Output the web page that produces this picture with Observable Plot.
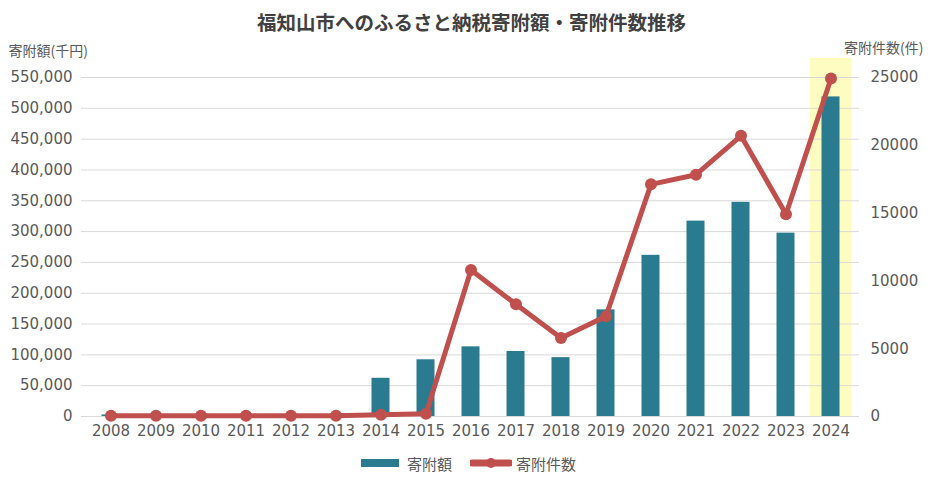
<!DOCTYPE html>
<html>
<head>
<meta charset="utf-8">
<script src="https://cdn.jsdelivr.net/npm/d3@7"></script>
<script src="https://cdn.jsdelivr.net/npm/@observablehq/plot@0.6"></script>
<style>
  html, body { margin: 0; padding: 0; background: #fff; overflow: hidden; }
  #wrap { width: 943px; height: 479px; position: relative; }
  #title { position: absolute; left: 0; top: 0; width: 943px; height: 44px; line-height: 44px; text-align: center; font-family: "Noto Sans CJK JP", sans-serif; font-weight: bold; font-size: 19.5px; color: #404040; z-index: 2; }
  #chart { position: absolute; left: 0; top: 0; }
  #chart svg { display: block; max-width: none !important; }
  #legend { position: absolute; left: 0; top: 450px; width: 943px; display: flex; justify-content: center; align-items: center; gap: 4px; font-family: "Noto Sans CJK JP", sans-serif; font-size: 15px; color: #595959; height: 26px; margin-left: -3px; }
  #legend svg { display: block; }
</style>
</head>
<body>
<div id="wrap">
  <div id="chart"></div>
  <div id="title"></div>
  <div id="legend"></div>
</div>
<script>
const titleText = "福知山市へのふるさと納税寄附額・寄附件数推移";
const leftAxisTitle = "寄附額(千円)";
const rightAxisTitle = "寄附件数(件)";
const seriesNames = ["寄附額", "寄附件数"];
const years = ["2008","2009","2010","2011","2012","2013","2014","2015","2016","2017","2018","2019","2020","2021","2022","2023","2024"];
const amounts = [2500, 3000, 800, 800, 800, 800, 62000, 92000, 113000, 105500, 95500, 173000, 261500, 317000, 347500, 297500, 518500];
const counts = [60, 60, 50, 50, 50, 50, 120, 200, 10800, 8270, 5790, 7400, 17120, 17830, 20700, 14920, 24930];
const leftTicks = [0, 50000, 100000, 150000, 200000, 250000, 300000, 350000, 400000, 450000, 500000, 550000];
const rightTicks = [0, 5000, 10000, 15000, 20000, 25000];
const highlightYear = "2024";

const yMax = leftTicks[leftTicks.length - 1];
const ratio = yMax / rightTicks[rightTicks.length - 1];
const data = years.map((y, i) => ({year: y, amount: amounts[i], count: counts[i]}));

const barColor = "#2a7b8f";
const lineColor = "#c0504d";
const textColor = "#595959";

document.getElementById("title").textContent = titleText;

const chart = Plot.plot({
  width: 943,
  height: 450,
  marginLeft: 81,
  marginRight: 84,
  marginTop: 77,
  marginBottom: 34,
  style: {fontFamily: "DejaVu Sans, sans-serif", fontSize: "15px", color: textColor, background: "transparent"},
  x: {type: "band", domain: years, padding: 0.1},
  y: {domain: [0, yMax]},
  marks: [
    Plot.barY([highlightYear], {x: d => d, y1: 0, y2: yMax, fill: "#fffcc2", insetTop: -19, insetLeft: 0, insetRight: 0}),
    Plot.gridY(leftTicks, {stroke: "#d9d9d9", strokeOpacity: 1}),
    Plot.axisY(leftTicks, {anchor: "left", tickSize: 0, tickPadding: 9, tickFormat: d3.format(","), label: null, fill: textColor}),
    Plot.axisY(rightTicks.map(v => v * ratio), {anchor: "right", tickSize: 0, tickPadding: 11, tickFormat: d => String(Math.round(d / ratio)), label: null, fill: textColor}),
    Plot.axisX({tickSize: 0, tickPadding: 9, label: null, fill: textColor}),
    Plot.barY(data, {x: "year", y: "amount", fill: barColor, insetLeft: 11.5, insetRight: 11.5}),
    Plot.line(data, {x: "year", y: d => d.count * ratio, stroke: lineColor, strokeWidth: 5, strokeLinejoin: "round"}),
    Plot.dot(data, {x: "year", y: d => d.count * ratio, r: 6, fill: lineColor, stroke: null}),
    Plot.text([leftAxisTitle], {frameAnchor: "top-left", dx: -73, dy: -31, textAnchor: "start", fontFamily: "Noto Sans CJK JP, sans-serif", fontSize: 14, fill: textColor}),
    Plot.text([rightAxisTitle], {frameAnchor: "top-right", dx: 64, dy: -34, textAnchor: "end", fontFamily: "Noto Sans CJK JP, sans-serif", fontSize: 14, fill: textColor})
  ]
});
document.getElementById("chart").appendChild(chart);

// legend
const legend = document.getElementById("legend");
function swatch(kind) {
  const s = d3.create("svg").attr("width", 42).attr("height", 14);
  if (kind === "bar") {
    s.append("rect").attr("x", 0).attr("y", 3).attr("width", 38).attr("height", 8).attr("fill", barColor);
  } else {
    s.append("line").attr("x1", 2).attr("x2", 40).attr("y1", 7).attr("y2", 7).attr("stroke", lineColor).attr("stroke-width", 7).attr("stroke-linecap", "round");
    s.append("circle").attr("cx", 21).attr("cy", 7).attr("r", 5).attr("fill", lineColor);
  }
  return s.node();
}
const item1 = document.createElement("span"); item1.textContent = seriesNames[0]; item1.style.marginRight = "14px";
const item2 = document.createElement("span"); item2.textContent = seriesNames[1];
legend.appendChild(swatch("bar"));
legend.appendChild(item1);
legend.appendChild(swatch("line"));
legend.appendChild(item2);
</script>
</body>
</html>
